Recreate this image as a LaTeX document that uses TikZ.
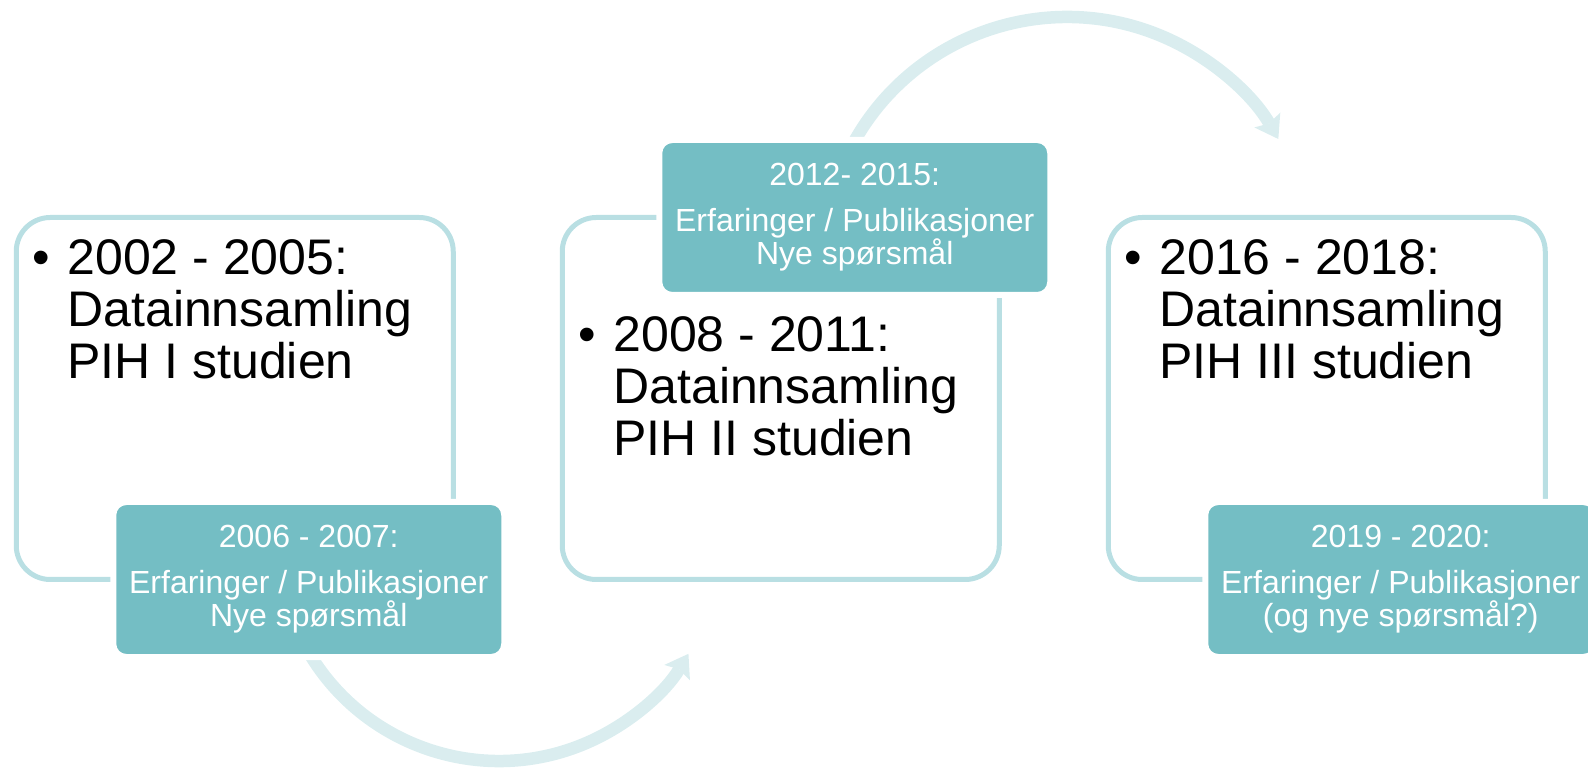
\documentclass[tikz,border=0pt]{standalone}
\usepackage{fontspec}
\setmainfont{Liberation Sans}
\usepackage{tikz}
\usetikzlibrary{
	positioning,
	arrows.meta
}
\definecolor{framecol}{RGB}{185,223,227}
\definecolor{notecol}{RGB}{116,190,196}
\definecolor{flowcol}{RGB}{218,237,239}
\tikzset{
	period/.style={
		draw=framecol, line width=5pt, rounded corners=34pt,
		minimum width=437pt, minimum height=362pt,
		inner sep=0pt, outer sep=0pt
	},
	notebox/.style={
		fill=notecol, draw=white, line width=6pt, rounded corners=13pt,
		minimum width=391pt, minimum height=155pt,
		text=white, align=center, font=\fontsize{32}{33}\selectfont
	},
	bigtext/.style={
		anchor=base west, align=left, inner sep=0pt,
		font=\fontsize{50}{52}\selectfont
	},
	dot/.style={
		anchor=base, inner sep=0pt,
		font=\fontsize{50}{52}\selectfont
	},
	flow/.style={
		draw=flowcol, line width=12.5pt,
		-{Stealth[length=22pt,width=30pt,inset=4pt,line width=0pt]}
	}
}

\begin{document}
\begin{tikzpicture}[x=1pt,y=1pt]
	\useasboundingbox (0,0) rectangle (1588,769);

	% the three periods
	\node[period]                  (b1) at (234.75,370.5) {};
	\node[period,right=109pt of b1] (b2) {};
	\node[period,right=109pt of b2] (b3) {};

	% arrows between the periods
	\coordinate (c1) at (499,229);
	\coordinate (c2) at (1067,508);
	\path (c1) ++(205:221pt) coordinate (a1);
	\path (c2) ++(155:244pt) coordinate (a2);
	\draw[flow] (a1) arc[start angle=205,end angle=329,radius=221pt];
	\draw[flow] (a2) arc[start angle=155,end angle=30,radius=244pt];

	% notes
	\node[notebox] (s1) at ([xshift=74pt]b1.south)
		{2006 - 2007:\\[13pt]Erfaringer / Publikasjoner\\Nye spørsmål};
	\node[notebox] (s2) at ([xshift=74pt]b2.north)
		{2012- 2015:\\[13pt]Erfaringer / Publikasjoner\\Nye spørsmål};
	\node[notebox] (s3) at ([xshift=74pt]b3.south)
		{2019 - 2020:\\[13pt]Erfaringer / Publikasjoner\\(og nye spørsmål?)};

	% data collection (base = last line)
	\node[dot]     (d1) at ([shift={(25pt,-57.5pt)}]b1.north west) {•};
	\node[bigtext] (t1) at ([shift={(51pt,-161.5pt)}]b1.north west)
		{2002 - 2005:\\Datainnsamling\\PIH I studien};
	\node[dot]     (d2) at ([shift={(25pt,-134.5pt)}]b2.north west) {•};
	\node[bigtext] (t2) at ([shift={(51pt,-238.5pt)}]b2.north west)
		{2008 - 2011:\\Datainnsamling\\PIH II studien};
	\node[dot]     (d3) at ([shift={(25pt,-57.5pt)}]b3.north west) {•};
	\node[bigtext] (t3) at ([shift={(51pt,-161.5pt)}]b3.north west)
		{2016 - 2018:\\Datainnsamling\\PIH III studien};
\end{tikzpicture}
\end{document}
